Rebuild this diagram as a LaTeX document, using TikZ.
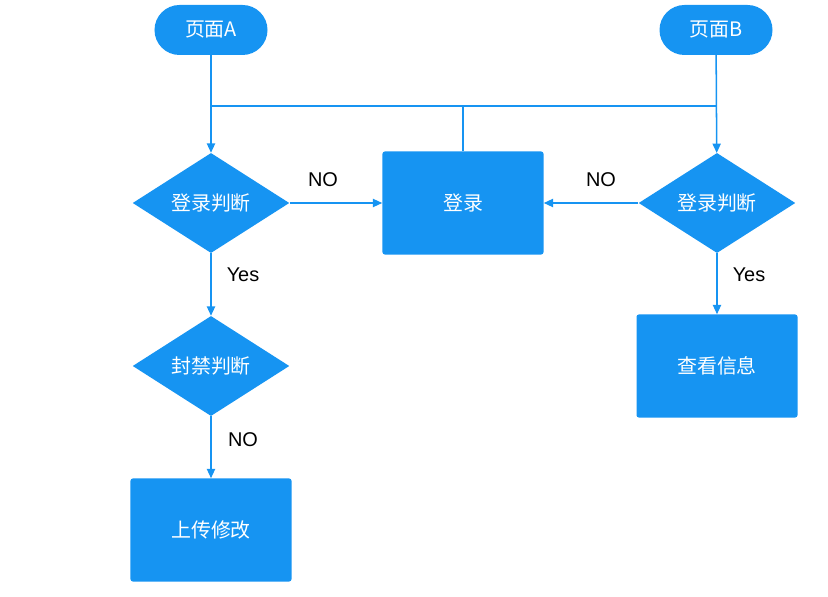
\documentclass[tikz,border=0pt]{standalone}
\usepackage{fontspec}
\setmainfont{Noto Sans CJK SC}
\newfontfamily\labelfont{Liberation Sans}
\usetikzlibrary{shapes.geometric,arrows.meta}
\definecolor{flowblue}{RGB}{22,148,242}
\tikzset{
  pagebox/.style={fill=flowblue, text=white, minimum width=3.39cm, minimum height=1.5cm, rounded corners=0.75cm},
  judgebox/.style={diamond, fill=flowblue, text=white, minimum width=4.7cm, minimum height=3.0cm, aspect=1.56, inner sep=0pt},
  actbox/.style={fill=flowblue, text=white, minimum width=4.83cm, minimum height=3.09cm, rounded corners=2pt},
  link/.style={draw=flowblue, line width=1.3pt},
  flow/.style={link, -{Triangle[width=7pt,length=8pt]}},
  tag/.style={font=\labelfont\fontsize{17}{20}\selectfont}
}
\begin{document}
\begin{tikzpicture}[x=0.03cm, y=-0.03cm, font=\fontsize{17}{20}\selectfont]
  \useasboundingbox (0,0) rectangle (828,597);
  \node[pagebox] (pageA) at (211,30) {页面A};
  \node[pagebox] (pageB) at (716,30) {页面B};
  \node[judgebox] (checkA) at (211,203) {登录判断};
  \node[judgebox] (checkB) at (717,203) {登录判断};
  \node[actbox] (login) at (463,203) {登录};
  \node[judgebox] (ban) at (211,366) {封禁判断};
  \node[actbox] (view) at (717,366) {查看信息};
  \node[actbox] (upload) at (211,530) {上传修改};
  \coordinate (joinA) at (211,106); \coordinate (joinB) at (717,106);
  \draw[flow] (pageA) -- (checkA);
  \draw[flow] (pageB) -- (checkB);
  \draw[link] (joinA) -- (joinB);
  \draw[link] (login.north) -- (login.north |- joinA);
  \draw[flow] (checkA.east) -- (login.west);
  \draw[flow] (checkB.west) -- (login.east);
  \draw[flow] (checkA.south) -- (ban.north);
  \draw[flow] (ban.south) -- (upload.north);
  \draw[flow] (checkB.south) -- (view.north);
  \node[tag] at (323,180) {NO};
  \node[tag] at (601,180) {NO};
  \node[tag] at (243,275) {Yes};
  \node[tag] at (749,275) {Yes};
  \node[tag] at (243,440) {NO};
\end{tikzpicture}
\end{document}
